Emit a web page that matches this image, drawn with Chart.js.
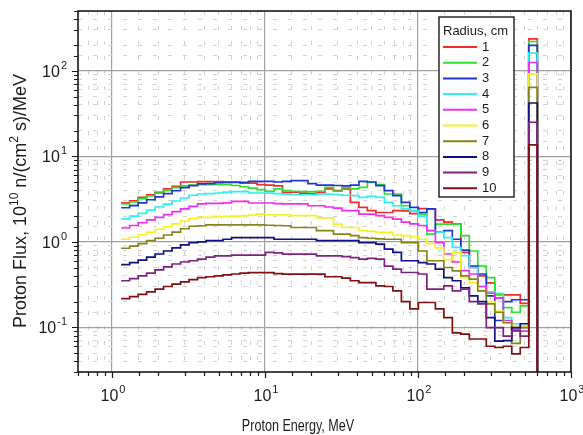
<!DOCTYPE html>
<html>
<head>
<meta charset="utf-8">
<title>Proton flux</title>
<script src="https://cdn.jsdelivr.net/npm/chart.js@4.4.1/dist/chart.umd.min.js"></script>
<style>
  html, body { margin: 0; padding: 0; background: #ffffff; overflow: hidden; }
  canvas { display: block; }
</style>
</head>
<body>
<canvas id="fluxChart" width="583" height="435"></canvas>
<script>
// Bin edges in MeV (last bin is the narrow peak just above 500 MeV)
const binEdges = [1.148, 1.305, 1.483, 1.685, 1.914, 2.175, 2.472, 2.809, 3.192, 3.627,
    4.121, 4.683, 5.321, 6.046, 6.871, 7.807, 8.872, 10.08, 11.46, 13.02,
    14.79, 16.81, 19.10, 21.70, 24.66, 28.02, 31.84, 36.18, 41.11, 46.71,
    53.09, 60.32, 68.55, 77.89, 88.51, 100.6, 114.3, 129.9, 147.6, 167.7,
    190.5, 216.5, 246.0, 279.6, 317.7, 361.0, 410.2, 466.1, 529.7, 602.6];

const radiusLabels = ['1', '2', '3', '4', '5', '6', '7', '8', '9', '10'];
const radiusColors = ['#f42a2a', '#2ee02e', '#2236d0', '#2ef0f0', '#f02ef0',
    '#f8f020', '#858518', '#10107e', '#802080', '#7e1010'];

// flux per bin, 10^10 n/(cm2 s)/MeV
const fluxR1 = [2.86, 3.02, 3.31, 3.55, 3.78, 4.15, 4.45, 5.0, 5.0, 5.05,
    5.05, 5.05, 5.0, 5.0, 4.85, 4.85, 4.65, 4.6, 4.5, 3.78,
    3.8, 3.7, 3.65, 3.8, 4.15, 3.96, 4.15, 2.89, 2.52, 2.31,
    2.2, 2.2, 2.31, 2.3, 2.13, 2.44, 2.42, 1.8, 1.7, 1.62,
    0.75, 0.5, 0.4, 0.33, 0.22, 0.24, 0.24, 0.19, 236];
const fluxR2 = [2.77, 2.92, 3.2, 3.45, 3.7, 4.0, 4.3, 4.5, 4.6, 4.66,
    4.66, 4.66, 4.66, 4.55, 4.4, 4.25, 4.07, 3.9, 4.15, 3.96,
    3.9, 3.85, 3.85, 3.9, 4.33, 3.9, 4.3, 4.15, 4.33, 4.96,
    4.66, 3.62, 3.62, 2.64, 2.3, 2.11, 1.23, 1.61, 1.61, 1.61,
    1.18, 0.78, 0.52, 0.38, 0.24, 0.17, 0.15, 0.178, 220];
const fluxR3 = [2.5, 2.65, 2.85, 3.1, 3.35, 3.65, 3.95, 4.3, 4.54, 4.75,
    4.8, 4.9, 4.96, 4.96, 4.96, 5.1, 5.1, 5.1, 5.0, 5.1,
    5.19, 5.19, 4.8, 4.6, 4.6, 4.55, 4.5, 4.6, 5.1, 5.0,
    4.54, 3.96, 3.46, 2.89, 2.52, 2.2, 2.42, 1.3, 1.35, 1.07,
    0.8, 0.52, 0.42, 0.233, 0.12, 0.2, 0.21, 0.21, 198];
const fluxR4 = [1.85, 2.0, 2.15, 2.35, 2.55, 2.75, 3.0, 3.25, 3.5, 3.62,
    3.65, 3.72, 3.8, 3.85, 3.85, 3.72, 3.72, 3.7, 3.65, 3.6,
    3.55, 3.55, 3.55, 3.6, 3.6, 3.55, 3.5, 3.46, 3.3, 3.4,
    3.3, 2.89, 2.64, 2.42, 2.31, 2.0, 1.35, 1.3, 1.12, 0.86,
    0.69, 0.5, 0.3, 0.26, 0.25, 0.13, 0.11, 0.10, 161];
const fluxR5 = [1.45, 1.55, 1.67, 1.8, 1.93, 2.08, 2.25, 2.42, 2.6, 2.77,
    2.81, 2.81, 2.85, 2.97, 2.97, 2.84, 2.84, 2.84, 2.8, 2.77,
    2.77, 2.77, 2.64, 2.64, 2.55, 2.48, 2.31, 2.31, 2.11, 2.11,
    2.02, 1.93, 1.84, 1.7, 1.62, 1.55, 1.35, 0.98, 0.72, 0.58,
    0.46, 0.42, 0.3, 0.25, 0.22, 0.12, 0.095, 0.09, 125];
const fluxR6 = [1.07, 1.13, 1.2, 1.3, 1.4, 1.5, 1.62, 1.75, 1.87, 1.93,
    1.93, 1.98, 1.98, 2.0, 2.02, 2.05, 2.11, 2.07, 2.07, 2.07,
    2.02, 2.02, 2.02, 1.9, 1.9, 1.61, 1.47, 1.47, 1.35, 1.32,
    1.29, 1.29, 1.2, 1.18, 1.15, 1.07, 0.95, 0.85, 0.62, 0.75,
    0.38, 0.33, 0.267, 0.2, 0.155, 0.113, 0.104, 0.104, 92];
const fluxR7 = [0.84, 0.89, 0.95, 1.03, 1.1, 1.2, 1.3, 1.42, 1.52, 1.54,
    1.58, 1.58, 1.58, 1.58, 1.58, 1.58, 1.58, 1.56, 1.55, 1.54,
    1.47, 1.47, 1.47, 1.35, 1.35, 1.23, 1.23, 1.18, 1.12, 1.1,
    1.08, 1.07, 1.07, 0.98, 0.98, 0.78, 0.6, 0.6, 0.5, 0.457,
    0.4, 0.365, 0.267, 0.188, 0.15, 0.113, 0.065, 0.099, 64];
const fluxR8 = [0.54, 0.57, 0.61, 0.66, 0.72, 0.78, 0.85, 0.92, 0.98, 1.0,
    1.03, 1.03, 1.07, 1.12, 1.12, 1.12, 1.12, 1.12, 1.07, 1.07,
    1.07, 1.07, 1.07, 1.03, 1.03, 1.03, 1.03, 1.03, 0.98, 0.98,
    0.94, 0.82, 0.75, 0.6, 0.6, 0.57, 0.55, 0.48, 0.38, 0.35,
    0.29, 0.233, 0.2, 0.13, 0.069, 0.07, 0.099, 0.11, 42];
const fluxR9 = [0.35, 0.37, 0.4, 0.43, 0.47, 0.51, 0.55, 0.58, 0.6, 0.626,
    0.66, 0.686, 0.686, 0.7, 0.7, 0.7, 0.7, 0.75, 0.74, 0.717,
    0.717, 0.717, 0.717, 0.686, 0.686, 0.686, 0.67, 0.654, 0.626, 0.64,
    0.626, 0.52, 0.48, 0.437, 0.437, 0.42, 0.279, 0.28, 0.305, 0.267,
    0.28, 0.2, 0.188, 0.099, 0.099, 0.079, 0.091, 0.079, 25];
const fluxR10 = [0.216, 0.228, 0.243, 0.26, 0.28, 0.3, 0.32, 0.34, 0.36, 0.38,
    0.39, 0.4, 0.41, 0.42, 0.43, 0.435, 0.435, 0.435, 0.425, 0.418,
    0.418, 0.418, 0.418, 0.418, 0.39, 0.39, 0.375, 0.35, 0.333, 0.333,
    0.305, 0.3, 0.267, 0.2, 0.164, 0.195, 0.195, 0.164, 0.13, 0.086,
    0.083, 0.073, 0.073, 0.06, 0.058, 0.06, 0.049, 0.058, 13.6];
const fluxByRadius = [fluxR1, fluxR2, fluxR3, fluxR4, fluxR5, fluxR6, fluxR7, fluxR8, fluxR9, fluxR10];

// after the last edge the histogram falls to zero (below the axis)
const belowAxis = 0.001;

const xTickValues = [1, 10, 100, 1000];
const xTickExponents = ['0', '1', '2', '3'];
const yTickValues = [0.1, 1, 10, 100];
const yTickExponents = ['-1', '0', '1', '2'];

const legendTitle = 'Radius, cm';
const xTitle = 'Proton Energy, MeV';
// [text, superscript?]
const yTitleParts = [['Proton Flux, 10', false], ['10', true], [' n/(cm', false], ['2', true], [' s)/MeV', false]];

const FONT = '"Liberation Sans", Arial, Helvetica, sans-serif';
const TEXT_COLOR = '#1c1c1c';

function isDecade(v) {
    const l = Math.log10(v);
    return Math.abs(l - Math.round(l)) < 1e-6;
}

function gridColor(c) {
    return c.tick && isDecade(c.tick.value) ? '#a0a0a0' : '#d2d2d2';
}
function gridWidth(c) {
    return c.tick && isDecade(c.tick.value) ? 1.2 : 1;
}
function gridDash(c) {
    return c.tick && isDecade(c.tick.value) ? [] : [4, 11];
}

// "10" with a raised exponent; anchor 'center' or 'right'
function drawPower(ctx, exp, x, y, anchor) {
    ctx.font = '16px ' + FONT;
    const wb = ctx.measureText('10').width;
    ctx.font = '11px ' + FONT;
    const we = ctx.measureText(exp).width;
    const total = wb + 1 + we;
    const left = anchor === 'center' ? x - total / 2 : x - total;
    ctx.textAlign = 'left';
    ctx.textBaseline = 'alphabetic';
    ctx.font = '16px ' + FONT;
    ctx.fillText('10', left, y + 6);
    ctx.font = '11px ' + FONT;
    ctx.fillText(exp, left + wb + 1, y - 2);
}

const decorPlugin = {
    id: 'decor',
    afterDraw(chart) {
        const ctx = chart.ctx;
        const a = chart.chartArea;
        const xs = chart.scales.x;
        const ys = chart.scales.y;
        ctx.save();

        // frame
        ctx.strokeStyle = '#1a1a1a';
        ctx.lineWidth = 1.6;
        ctx.strokeRect(a.left, a.top, a.right - a.left, a.bottom - a.top);

        // tick marks, outside
        ctx.lineWidth = 1.2;
        ctx.beginPath();
        xs.ticks.forEach(t => {
            const px = Math.round(xs.getPixelForValue(t.value)) + 0.5;
            const len = isDecade(t.value) ? 6 : 4;
            ctx.moveTo(px, a.bottom);
            ctx.lineTo(px, a.bottom + len);
        });
        ys.ticks.forEach(t => {
            const py = Math.round(ys.getPixelForValue(t.value)) + 0.5;
            const len = isDecade(t.value) ? 6 : 4;
            ctx.moveTo(a.left, py);
            ctx.lineTo(a.left - len, py);
        });
        ctx.stroke();

        // tick labels
        ctx.fillStyle = TEXT_COLOR;
        xTickValues.forEach((v, i) => {
            drawPower(ctx, xTickExponents[i], xs.getPixelForValue(v) + 1, a.bottom + 23, 'center');
        });
        yTickValues.forEach((v, i) => {
            drawPower(ctx, yTickExponents[i], a.left - 11, ys.getPixelForValue(v), 'right');
        });

        // x title (narrow face)
        ctx.save();
        ctx.font = '17px ' + FONT;
        ctx.textAlign = 'center';
        ctx.textBaseline = 'alphabetic';
        ctx.translate(298, a.bottom + 59);
        ctx.scale(0.74, 1);
        ctx.fillText(xTitle, 0, 0);
        ctx.restore();

        // y title, rotated, with superscripts
        ctx.save();
        const baseFont = '18px ' + FONT;
        const supFont = '12px ' + FONT;
        let total = 0;
        yTitleParts.forEach(p => {
            ctx.font = p[1] ? supFont : baseFont;
            total += ctx.measureText(p[0]).width;
        });
        ctx.translate(26, 201);
        ctx.rotate(-Math.PI / 2);
        ctx.textAlign = 'left';
        ctx.textBaseline = 'alphabetic';
        let cx = -total / 2;
        yTitleParts.forEach(p => {
            ctx.font = p[1] ? supFont : baseFont;
            ctx.fillText(p[0], cx, p[1] ? -8 : 0);
            cx += ctx.measureText(p[0]).width;
        });
        ctx.restore();

        // legend box inside the plot
        const left = a.right - 132;
        const right = a.right - 57;
        const top = a.top + 6;
        const bottom = a.top + 186;
        ctx.fillStyle = '#ffffff';
        ctx.fillRect(left, top, right - left, bottom - top);
        ctx.strokeStyle = '#1a1a1a';
        ctx.lineWidth = 1.4;
        ctx.strokeRect(left, top, right - left, bottom - top);
        ctx.fillStyle = TEXT_COLOR;
        ctx.font = '13px ' + FONT;
        ctx.textAlign = 'left';
        ctx.textBaseline = 'middle';
        ctx.fillText(legendTitle, left + 4, top + 14);
        chart.data.datasets.forEach((ds, i) => {
            const yy = top + 30 + i * 15.7;
            ctx.strokeStyle = ds.borderColor;
            ctx.lineWidth = 2;
            ctx.beginPath();
            ctx.moveTo(left + 4, yy);
            ctx.lineTo(left + 38, yy);
            ctx.stroke();
            ctx.fillStyle = TEXT_COLOR;
            ctx.fillText(ds.label, left + 43, yy);
        });

        ctx.restore();
    }
};

const datasets = fluxByRadius.map((values, i) => ({
    label: radiusLabels[i],
    data: binEdges.map((e, k) => ({ x: e, y: k < values.length ? values[k] : belowAxis })),
    borderColor: radiusColors[i],
    backgroundColor: radiusColors[i],
    borderWidth: 1.7,
    pointRadius: 0,
    stepped: true,
    fill: false,
    order: fluxByRadius.length - i
}));

new Chart(document.getElementById('fluxChart'), {
    type: 'line',
    data: { datasets },
    options: {
        responsive: false,
        animation: false,
        devicePixelRatio: 1,
        layout: { padding: { left: 78, right: 12, top: 11, bottom: 63 } },
        plugins: {
            legend: { display: false },
            tooltip: { enabled: false }
        },
        scales: {
            x: {
                type: 'logarithmic',
                min: 0.6,
                max: 1000,
                afterFit: s => { s.height = 0; },
                ticks: { display: false },
                grid: { drawTicks: false, color: gridColor, lineWidth: gridWidth },
                border: { display: false, dash: gridDash }
            },
            y: {
                type: 'logarithmic',
                min: 0.03,
                max: 500,
                afterFit: s => { s.width = 0; },
                ticks: { display: false },
                grid: { drawTicks: false, color: gridColor, lineWidth: gridWidth },
                border: { display: false, dash: gridDash }
            }
        }
    },
    plugins: [decorPlugin]
});
</script>
</body>
</html>
